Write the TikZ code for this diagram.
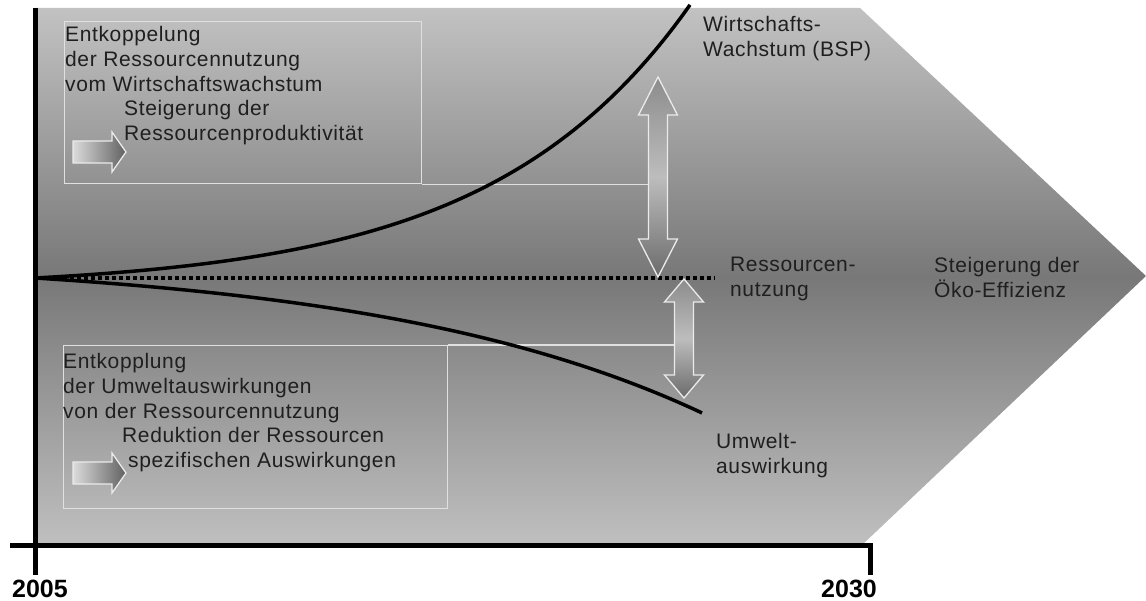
\documentclass[tikz,border=0pt]{standalone}
\usepackage{fontspec}
\setmainfont{Liberation Sans}
\newfontfamily\boxfont[LetterSpace=3]{Liberation Sans}
\usetikzlibrary{positioning}

% x centre, top tip, bottom tip, half head, half shaft, head length
\newcommand{\dblarr}[6]{%
  \draw[dblarrow] (#1,#2) -- ({#1+#4},{#2+#6}) -- ({#1+#5},{#2+#6}) -- ({#1+#5},{#3-#6})
    -- ({#1+#4},{#3-#6}) -- (#1,#3) -- ({#1-#4},{#3-#6}) -- ({#1-#5},{#3-#6})
    -- ({#1-#5},{#2+#6}) -- ({#1-#4},{#2+#6}) -- cycle;}
% left end, centre line
\newcommand{\rarr}[2]{%
  \draw[smallarrow] (#1,{#2-11}) -- ({#1+39},{#2-11}) -- ({#1+39},{#2-20}) -- ({#1+53},#2)
    -- ({#1+39},{#2+20}) -- ({#1+39},{#2+11}) -- (#1,{#2+11}) -- cycle;}

\begin{document}
\begin{tikzpicture}[x=1pt, y=-1pt,
  panel/.style={draw=white!88!black, line width=1.3pt, anchor=north west, inner sep=0pt},
  link/.style={draw=white!88!black, line width=1.3pt},
  lbl/.style={inner sep=0pt, anchor=north west, align=left, text=black!88, font=\boxfont\fontsize{21}{25}\selectfont},
  yr/.style={inner sep=0pt, anchor=north, font=\bfseries\fontsize{25}{28}\selectfont},
  curve/.style={line width=3.5pt, black},
  axis/.style={line width=5pt, black},
  dblarrow/.style={draw=white!92!black, line width=1.3pt, top color=black!45, bottom color=black!58, middle color=black!26},
  smallarrow/.style={draw=white!92!black, line width=1.3pt, left color=black!14, right color=black!62}
]
\useasboundingbox (0,0) rectangle (1146,601);

% background arrow
\shade[top color=black!24, bottom color=black!25, middle color=black!53]
  (35,8) -- (860,8) -- (1146,276) -- (862,545) -- (35,545) -- cycle;

\coordinate (start) at (35,278);
\coordinate (uarr) at (658,177);
\coordinate (larr) at (684,338);

% boxes
\node[panel, minimum width=357pt, minimum height=162pt] (ubox) at (64,21) {};
\node[panel, minimum width=384pt, minimum height=163pt] (lbox) at (63,345) {};
\draw[link] (ubox.south east) -- (ubox.south east -| uarr);
\draw[link] (lbox.north east) -- (lbox.north east -| larr);

% curves
\draw[curve] plot[domain=35:690, samples=80, smooth] (\x, {278-10.7*(exp(0.005*(\x-35))-1)});
\draw[curve] plot[domain=35:702, samples=80, smooth] (\x, {278+21*(exp(0.003*(\x-35))-1)});
\draw[line width=3.5pt, dash pattern=on 3.5pt off 3.5pt] (start) -- (715,278);

% arrows
\dblarr{658}{77}{277}{19.5}{9.5}{38}
\dblarr{684}{279}{398}{19.5}{9.5}{23}
\rarr{73}{152}
\rarr{73}{473}

% texts
\node[lbl, below right=5pt and 1pt of ubox.north west] (ubtxt)
  {Entkoppelung\\der Ressourcennutzung\\vom Wirtschaftswachstum};
\node[lbl, below right=79pt and 60pt of ubox.north west] (ubsub)
  {Steigerung der\\Ressourcenproduktivität};
\node[lbl, below right=8pt and 0pt of lbox.north west] (lbtxt)
  {Entkopplung\\der Umweltauswirkungen\\von der Ressourcennutzung};
\node[lbl, below right=82pt and 59pt of lbox.north west] (lbsub)
  {Reduktion der Ressourcen\\\hspace*{6pt}spezifischen Auswirkungen};

\node[lbl] (wlbl) at (703,16) {Wirtschafts-\\Wachstum (BSP)};
\node[lbl] (rlbl) at (730,257) {Ressourcen-\\nutzung};
\node[lbl] (elbl) at (934,257) {Steigerung der\\Öko-Effizienz};
\node[lbl] (ulbl) at (716,433) {Umwelt-\\auswirkung};

% axes
\draw[axis] (35,8) -- (35,575);
\draw[axis] (10,545) -- (870,545) -- (870,575);
\node[yr] (y1) at (40,580) {2005};
\node[yr] (y2) at (849,580) {2030};
\end{tikzpicture}
\end{document}
